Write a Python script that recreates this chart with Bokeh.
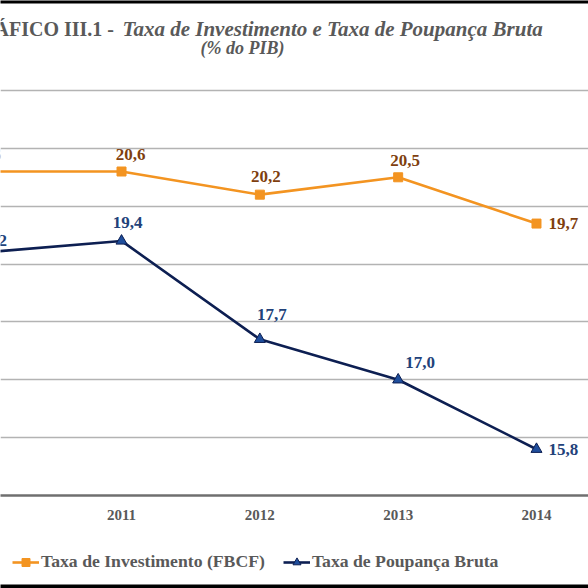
from bokeh.plotting import figure
from bokeh.layouts import column
from bokeh.models import ColumnDataSource, FixedTicker, Label, Legend, LegendItem
from bokeh.core.properties import value
from bokeh.embed import file_html
from bokeh.resources import INLINE

# Series (% do PIB)
years = [2010, 2011, 2012, 2013, 2014]
investimento = [20.6, 20.6, 20.2, 20.5, 19.7]
poupanca = [19.2, 19.4, 17.7, 17.0, 15.8]
tick_years = [2011, 2012, 2013, 2014]
grid_levels = [15, 16, 17, 18, 19, 20, 21, 22]

# label offsets in screen pixels (x right, y down)
inv_dx = [3, 9, 6, 7, 27]
inv_dy = [-17, -17, -18, -17, 0]
pou_dx = [9, 6, 12, 22, 27]
pou_dy = [-12, -18, -25, -17, 0]

SERIF = "Liberation Serif"
GREY = "#595959"
ORANGE = "#f39421"
NAVY = "#0d1f52"
TRI_FILL = "#1f4e9c"

W = 588
FRAME_H = 495           # plot area, including the heading space
Y_LOW, Y_HIGH = 15, 23.5556
PX = (Y_HIGH - Y_LOW) / FRAME_H   # data units per pixel
X_LOW, X_HIGH = 2010.125, 2014.376


def fmt(v):
    return f"{v:.1f}".replace(".", ",")


src_inv = ColumnDataSource(dict(x=years, y=investimento,
                                lab=[fmt(v) for v in investimento],
                                dx=inv_dx, dy=inv_dy))
src_pou = ColumnDataSource(dict(x=years, y=poupanca,
                                lab=[fmt(v) for v in poupanca],
                                dx=pou_dx, dy=pou_dy))

p = figure(width=W, height=540, output_backend="svg", toolbar_location=None,
           x_range=(X_LOW, X_HIGH), y_range=(Y_LOW, Y_HIGH),
           y_axis_location=None,
           min_border_left=0, min_border_right=0,
           min_border_top=0, min_border_bottom=45)
p.outline_line_color = None
p.background_fill_color = "white"
p.border_fill_color = "white"

# grid
p.xgrid.grid_line_color = None
p.ygrid.ticker = FixedTicker(ticks=grid_levels)
p.ygrid.grid_line_color = "#b3b3b3"
p.ygrid.grid_line_width = 1.5

# x axis
ax = p.xaxis[0]
ax.ticker = FixedTicker(ticks=tick_years)
ax.axis_line_color = "#6f6f6f"
ax.axis_line_width = 2.5
ax.major_tick_line_color = None
ax.minor_tick_line_color = None
ax.major_label_standoff = 8
ax.major_label_text_font = SERIF
ax.major_label_text_font_style = "bold"
ax.major_label_text_font_size = "15px"
ax.major_label_text_color = GREY

# lines and markers
p.line("x", "y", source=src_inv, line_color=ORANGE, line_width=2.6)
p.scatter("x", "y", source=src_inv, marker="square", size=9,
          fill_color=ORANGE, line_color=ORANGE)
p.line("x", "y", source=src_pou, line_color=NAVY, line_width=2.6)
p.scatter("x", "y", source=src_pou, marker="triangle", size=11,
          fill_color=TRI_FILL, line_color=NAVY, line_width=1)

# value labels
p.text("x", "y", text="lab", source=src_inv, x_offset="dx", y_offset="dy",
       text_font=value(SERIF), text_font_style="bold", text_font_size="17px",
       text_color="#7f3f0f", text_align="center", text_baseline="middle")
p.text("x", "y", text="lab", source=src_pou, x_offset="dx", y_offset="dy",
       text_font=value(SERIF), text_font_style="bold", text_font_size="17px",
       text_color="#22427a", text_align="center", text_baseline="middle")

# heading (screen units from the frame's bottom-left corner)
p.add_layout(Label(x=-6, y=FRAME_H - 28, x_units="screen", y_units="screen",
                   text="ÁFICO III.1 -", text_font=SERIF, text_font_style="bold",
                   text_font_size="20px", text_color=GREY, text_baseline="alphabetic"))
p.add_layout(Label(x=122, y=FRAME_H - 28, x_units="screen", y_units="screen",
                   text="Taxa de Investimento e Taxa de Poupança Bruta",
                   text_font=SERIF, text_font_style="bold italic",
                   text_font_size="21px", text_color=GREY, text_baseline="alphabetic"))
p.add_layout(Label(x=242, y=FRAME_H - 47, x_units="screen", y_units="screen",
                   text="(% do PIB)", text_align="center",
                   text_font=SERIF, text_font_style="bold italic",
                   text_font_size="18px", text_color=GREY, text_baseline="alphabetic"))

# dark edge along the top of the sheet
p.quad(left=X_LOW - 1, right=X_HIGH + 1, bottom=Y_HIGH - 3 * PX, top=Y_HIGH + 1,
       fill_color="black", line_color=None)

# legend strip
leg = figure(width=W, height=48, output_backend="svg", toolbar_location=None,
             x_range=(0, W), y_range=(0, 48),
             x_axis_location=None, y_axis_location=None,
             min_border_left=0, min_border_right=0,
             min_border_top=0, min_border_bottom=0)
leg.outline_line_color = None
leg.grid.visible = False
off = dict(x=[-100], y=[-100])   # keyed renderers, kept out of view
r1a = leg.line("x", "y", source=ColumnDataSource(off), line_color=ORANGE, line_width=2.6)
r1b = leg.scatter("x", "y", source=ColumnDataSource(off), marker="square", size=9,
                  fill_color=ORANGE, line_color=ORANGE)
r2a = leg.line("x", "y", source=ColumnDataSource(off), line_color=NAVY, line_width=2.6)
r2b = leg.scatter("x", "y", source=ColumnDataSource(off), marker="triangle", size=11,
                  fill_color=TRI_FILL, line_color=NAVY, line_width=1)
legend = Legend(items=[LegendItem(label="Taxa de Investimento (FBCF)", renderers=[r1a, r1b]),
                       LegendItem(label="Taxa de Poupança Bruta", renderers=[r2a, r2b])],
                orientation="horizontal", location=(12, 16),
                label_text_font=SERIF, label_text_font_style="bold",
                label_text_font_size="17.7px", label_text_color=GREY,
                glyph_width=27, glyph_height=20, label_standoff=2, spacing=18,
                padding=0, margin=0, border_line_color=None,
                background_fill_alpha=0)
leg.add_layout(legend, "center")
# dark edge along the bottom of the sheet
leg.quad(left=-1, right=W + 1, bottom=-1, top=4, fill_color="black", line_color=None)

page = column(p, leg, spacing=0)
open("out.html", "w").write(file_html(page, INLINE))
